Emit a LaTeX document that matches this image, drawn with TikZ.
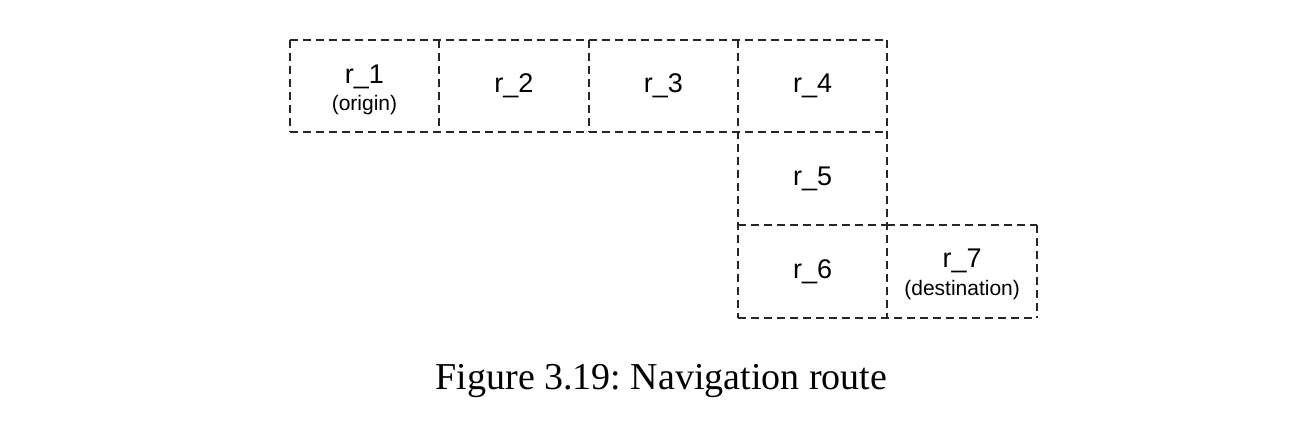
\documentclass[tikz,border=0pt]{standalone}
\usepackage{fontspec}
\setmainfont{Liberation Sans}
\newfontfamily\capfont{Liberation Serif}
\begin{document}
\begin{tikzpicture}[x=1pt,y=-1pt,
  cell/.style={minimum width=149pt,minimum height=92.3pt,inner sep=0pt,align=center,
    font=\fontsize{27}{30}\selectfont},
  dashline/.style={line width=2pt,dash pattern=on 8pt off 5pt,black!85}]
\useasboundingbox (0,0) rectangle (1292,444);
\fill[white] (0,0) rectangle (1292,444);
\node[cell] (r1) at (364.5,86) {};
\node[cell,anchor=west] (r2) at (r1.east) {r\_2};
\node[cell,anchor=west] (r3) at (r2.east) {r\_3};
\node[cell,anchor=west] (r4) at (r3.east) {r\_4};
\node[cell,anchor=north] (r5) at (r4.south) {r\_5};
\node[cell,anchor=north] (r6) at (r5.south) {r\_6};
\node[cell,anchor=west] (r7) at (r6.east) {};
% labels of the two two-line cells
\node[anchor=base,inner sep=0pt,font=\fontsize{27}{30}\selectfont] (r1a) at ([yshift=3pt]r1.center) {r\_1};
\node[anchor=base,inner sep=0pt,font=\fontsize{21}{24}\selectfont] (r1b) at ([yshift=-24pt]r1.center) {(origin)};
\node[anchor=base,inner sep=0pt,font=\fontsize{27}{30}\selectfont] (r7a) at ([yshift=4pt]r7.center) {r\_7};
\node[anchor=base,inner sep=0pt,font=\fontsize{21}{24}\selectfont] (r7b) at ([yshift=-24pt]r7.center) {(destination)};
% outlines
\draw[dashline] (r1.north west) -- (r4.north east);
\draw[dashline] (r1.south west) -- (r4.south east);
\draw[dashline] (r1.north west) -- (r1.south west);
\draw[dashline] (r1.north east) -- (r1.south east);
\draw[dashline] (r2.north east) -- (r2.south east);
\draw[dashline] (r3.north east) -- (r6.south west);
\draw[dashline] (r4.north east) -- (r6.south east);
\draw[dashline] (r5.south west) -- (r5.south east);
\draw[dashline] (r7.north west) -- (r7.north east);
\draw[dashline] (r6.south west) -- (r7.south east);
\draw[dashline] (r7.north east) -- (r7.south east);
\node[anchor=base,inner sep=0pt,font=\capfont\fontsize{38}{44}\selectfont] (cap) at (661.5,389) {\frenchspacing Figure 3.19: Navigation route};
\end{tikzpicture}
\end{document}
